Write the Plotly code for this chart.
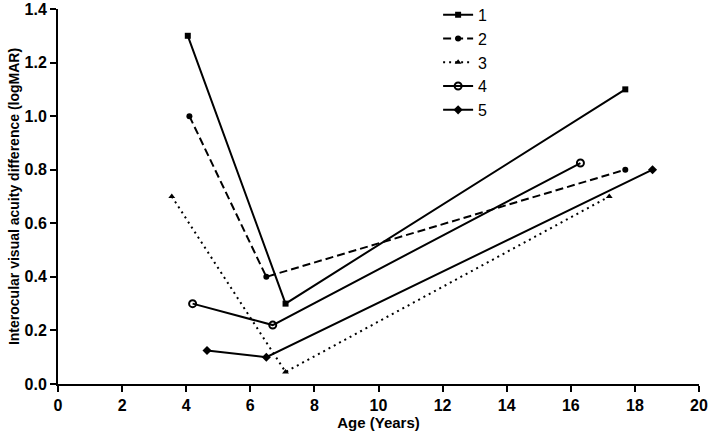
import plotly.graph_objects as go

names = ["1", "2", "3", "4", "5"]
ages = [
    [4.05, 7.1, 17.7],
    [4.1, 6.5, 17.7],
    [3.55, 7.1, 17.2],
    [4.2, 6.7, 16.3],
    [4.65, 6.5, 18.55],
]
acuity = [
    [1.3, 0.3, 1.1],
    [1.0, 0.4, 0.8],
    [0.7, 0.045, 0.7],
    [0.3, 0.22, 0.825],
    [0.125, 0.1, 0.8],
]
x_ticks = [0, 2, 4, 6, 8, 10, 12, 14, 16, 18, 20]
y_ticks = [0.0, 0.2, 0.4, 0.6, 0.8, 1.0, 1.2, 1.4]

dashes = ["solid", "8px,4px", "2px,4px", "solid", "solid"]
symbols = ["square", "circle", "triangle-up", "circle-open", "diamond"]
sizes = [6, 6, 6, 7, 7]

fig = go.Figure()
for i, n in enumerate(names):
    fig.add_trace(go.Scatter(
        x=ages[i], y=acuity[i], name=n, mode="lines+markers",
        legendgroup=n,
        line=dict(color="black", width=2, dash=dashes[i]),
        marker=dict(symbol=symbols[i], size=sizes[i], color="black",
                    line=dict(color="black", width=2 if i == 3 else 0)),
    ))

tickfont = dict(family="Arial", size=16, color="black")
axis_common = dict(
    showline=True, linecolor="black", linewidth=2, mirror=False,
    ticks="outside", ticklen=6, tickwidth=2, tickcolor="black",
    showgrid=False, zeroline=False, automargin=False,
    tickfont=tickfont,
)

fig.update_layout(
    width=709, height=433,
    margin=dict(l=58, r=10, t=9, b=49, autoexpand=False),
    plot_bgcolor="white", paper_bgcolor="white",
    font=dict(family="Arial", color="black"),
    xaxis=dict(range=[0, 20], tickvals=x_ticks,
               ticktext=[f"<b>{v}</b>" for v in x_ticks],
               title=dict(text="<b>Age (Years)</b>", font=dict(size=15, family="Arial"), standoff=2),
               **axis_common),
    yaxis=dict(range=[0, 1.4], tickvals=y_ticks,
               ticktext=[f"<b>{v:.1f}</b>" for v in y_ticks],
               title=dict(text="<b>Interocular visual acuity difference (logMAR)</b>",
                          font=dict(size=14, family="Arial"), standoff=2),
               **axis_common),
    legend=dict(x=0.593, y=1.03, xanchor="left", yanchor="top",
                font=dict(size=16, family="Arial"),
                tracegroupgap=0, itemwidth=30, bgcolor="rgba(0,0,0,0)"),
)

fig.write_html("out.html", config={"displayModeBar": False},
               post_script="document.body.style.margin='0';")
